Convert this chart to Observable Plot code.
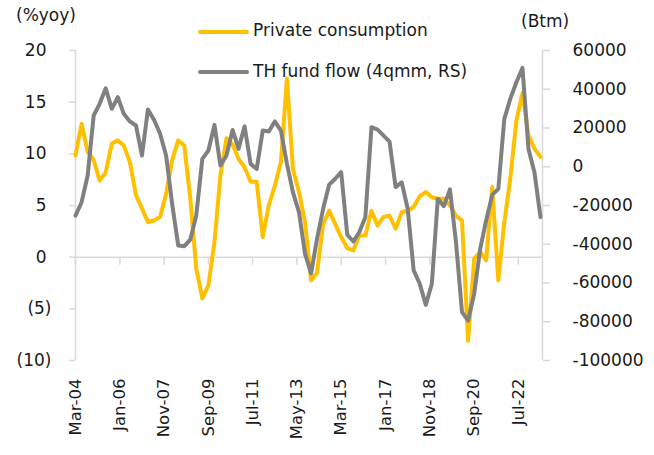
<!DOCTYPE html>
<html><head><meta charset="utf-8">
<script src="https://cdn.jsdelivr.net/npm/d3@7"></script>
<script src="https://cdn.jsdelivr.net/npm/@observablehq/plot@0.6"></script>
<style>
body{margin:0;background:#fff;}
#wrap{position:relative;width:654px;height:455px;font-family:"DejaVu Sans",sans-serif;color:#1a1a1a;overflow:hidden;}
#wrap svg{position:absolute;left:0;top:0;}
.lbl{position:absolute;white-space:nowrap;font-size:17px;line-height:1;transform:translateY(-50%);}
.sw{position:absolute;height:4px;border-radius:2px;transform:translateY(-50%);}
</style></head><body><div id="wrap"></div>
<script>
// Quarterly observations (quarter-end month)
const quarters = [
"2004-03","2004-06","2004-09","2004-12","2005-03","2005-06","2005-09","2005-12",
"2006-03","2006-06","2006-09","2006-12","2007-03","2007-06","2007-09","2007-12",
"2008-03","2008-06","2008-09","2008-12","2009-03","2009-06","2009-09","2009-12",
"2010-03","2010-06","2010-09","2010-12","2011-03","2011-06","2011-09","2011-12",
"2012-03","2012-06","2012-09","2012-12","2013-03","2013-06","2013-09","2013-12",
"2014-03","2014-06","2014-09","2014-12","2015-03","2015-06","2015-09","2015-12",
"2016-03","2016-06","2016-09","2016-12","2017-03","2017-06","2017-09","2017-12",
"2018-03","2018-06","2018-09","2018-12","2019-03","2019-06","2019-09","2019-12",
"2020-03","2020-06","2020-09","2020-12","2021-03","2021-06","2021-09","2021-12",
"2022-03","2022-06","2022-09","2022-12","2023-03","2023-06"];

// Private consumption (%yoy, left scale)
const privateConsumption = [
9.85,12.9,10.2,9.4,7.4,8.2,11.0,11.3,10.8,9.2,
6.0,4.7,3.4,3.55,3.9,6.1,9.4,11.3,10.8,5.65,
-1.1,-4.0,-2.7,1.45,7.9,11.5,10.9,9.5,8.7,7.3,
7.3,1.95,5.0,6.9,9.2,17.3,8.55,6.3,3.4,-2.25,
-1.5,3.2,4.5,3.2,1.95,0.87,0.65,2.1,2.1,4.5,
3.07,3.9,4.0,2.75,4.35,4.5,4.85,5.9,6.3,5.8,
5.65,5.65,5.0,4.0,3.55,-8.1,-0.15,0.5,-0.3,6.8,
-2.25,3.4,7.6,13.2,15.9,11.8,10.5,9.7];

// TH fund flow (4qmm, Btm, right scale)
const fundFlow = [
-25200,-18300,-4500,26450,32500,40500,29900,35900,27300,23400,
21300,5800,29500,24300,17000,5800,-19100,-40600,-41000,-37600,
-25200,4100,8400,21600,650,5800,19000,9250,20900,1500,
-1100,18700,18200,23400,18700,1500,-13100,-23400,-45000,-55000,
-37200,-21700,-9200,-6200,-2800,-35100,-38600,-33700,-26000,20400,
19200,16100,13000,-10500,-8000,-21700,-53500,-60400,-71300,-60400,
-16600,-20300,-11700,-38900,-75000,-79400,-65600,-42400,-27700,-14500,
-11400,24700,35000,43600,51000,9200,-2800,-26000];

const xTickLabels = ["Mar-04","Jan-06","Nov-07","Sep-09","Jul-11","May-13","Mar-15","Jan-17","Nov-18","Sep-20","Jul-22"];
const leftTicks = [20,15,10,5,0,-5,-10];
const rightTicks = [60000,40000,20000,0,-20000,-40000,-60000,-80000,-100000];
const xStart = "2004-03", xEnd = "2023-07";
const leftDomain = [-10,20], rightDomain = [-100000,60000];

const parseQ = d3.utcParse("%Y-%m");
const parseTick = d3.utcParse("%b-%y");
const xTicks = xTickLabels.map(parseTick);

// map right-axis values onto the left scale
const toLeft = r => leftDomain[0] + (r - rightDomain[0]) * (leftDomain[1]-leftDomain[0]) / (rightDomain[1]-rightDomain[0]);
const fromLeft = v => rightDomain[0] + (v - leftDomain[0]) * (rightDomain[1]-rightDomain[0]) / (leftDomain[1]-leftDomain[0]);

const data = quarters.map((q,i) => ({date: parseQ(q), pc: privateConsumption[i], flow: fundFlow[i]}));

const axisGrey = "#d9d9d9", ink = "#1a1a1a";
const xDomain = [parseQ(xStart), parseQ(xEnd)];

const chart = Plot.plot({
  width: 654, height: 455,
  marginLeft: 75, marginRight: 112, marginTop: 50, marginBottom: 95,
  style: {fontFamily: "DejaVu Sans, sans-serif", fontSize: "17px", color: ink, background: "#fff", overflow: "visible"},
  x: {type: "utc", domain: xDomain, label: null},
  y: {domain: leftDomain, label: null},
  marks: [
    Plot.ruleX([xDomain[0]], {stroke: axisGrey, strokeWidth: 1.5}),
    Plot.ruleX([xDomain[1]], {stroke: axisGrey, strokeWidth: 1.5}),
    Plot.ruleY([0], {stroke: axisGrey, strokeWidth: 1.5}),
    Plot.ruleX(xTicks, {x: d => d, y1: 0, y2: 0, insetBottom: -8, stroke: axisGrey, strokeWidth: 1.5}),
    Plot.axisY(leftTicks.filter(v => v >= 0), {anchor: "left", tickSize: 6, tickPadding: 23, stroke: axisGrey, strokeWidth: 1.5, fill: ink, fontSize: 17, label: null, tickFormat: v => `${v}`}),
    Plot.axisY(leftTicks.filter(v => v < 0), {anchor: "left", tickSize: 6, tickPadding: 18, stroke: axisGrey, strokeWidth: 1.5, fill: ink, fontSize: 17, label: null, tickFormat: v => `(${-v})`}),
    Plot.axisY(rightTicks.map(toLeft), {anchor: "right", tickSize: 7, tickPadding: 23, stroke: axisGrey, strokeWidth: 1.5, fill: ink, fontSize: 17, label: null, tickFormat: v => String(Math.round(fromLeft(v)))}),
    Plot.axisX(xTicks, {anchor: "bottom", tickSize: 0, tickPadding: 18, tickRotate: -90, fill: ink, fontSize: 16.5, label: null, tickFormat: d3.utcFormat("%b-%y")}),
    Plot.line(data, {x: "date", y: "pc", stroke: "#FFC000", strokeWidth: 4, strokeLinejoin: "round", strokeLinecap: "round"}),
    Plot.line(data, {x: "date", y: d => toLeft(d.flow), stroke: "#808080", strokeWidth: 4, strokeLinejoin: "round", strokeLinecap: "round"})
  ]
});

const wrap = document.getElementById("wrap");
wrap.appendChild(chart);

const overlay = [
  {t: "(%yoy)", x: 16, y: 15},
  {t: "(Btm)", x: 521, y: 21},
  {t: "Private consumption", x: 253, y: 30},
  {t: "TH fund flow (4qmm, RS)", x: 253, y: 71}
];
for (const o of overlay) {
  const d = document.createElement("div");
  d.className = "lbl"; d.textContent = o.t;
  d.style.left = o.x + "px"; d.style.top = o.y + "px";
  wrap.appendChild(d);
}
const swatches = [{c: "#FFC000", y: 32}, {c: "#808080", y: 72}];
for (const s of swatches) {
  const d = document.createElement("div");
  d.className = "sw"; d.style.background = s.c;
  d.style.left = "198px"; d.style.width = "51px"; d.style.top = s.y + "px";
  wrap.appendChild(d);
}
</script></body></html>
